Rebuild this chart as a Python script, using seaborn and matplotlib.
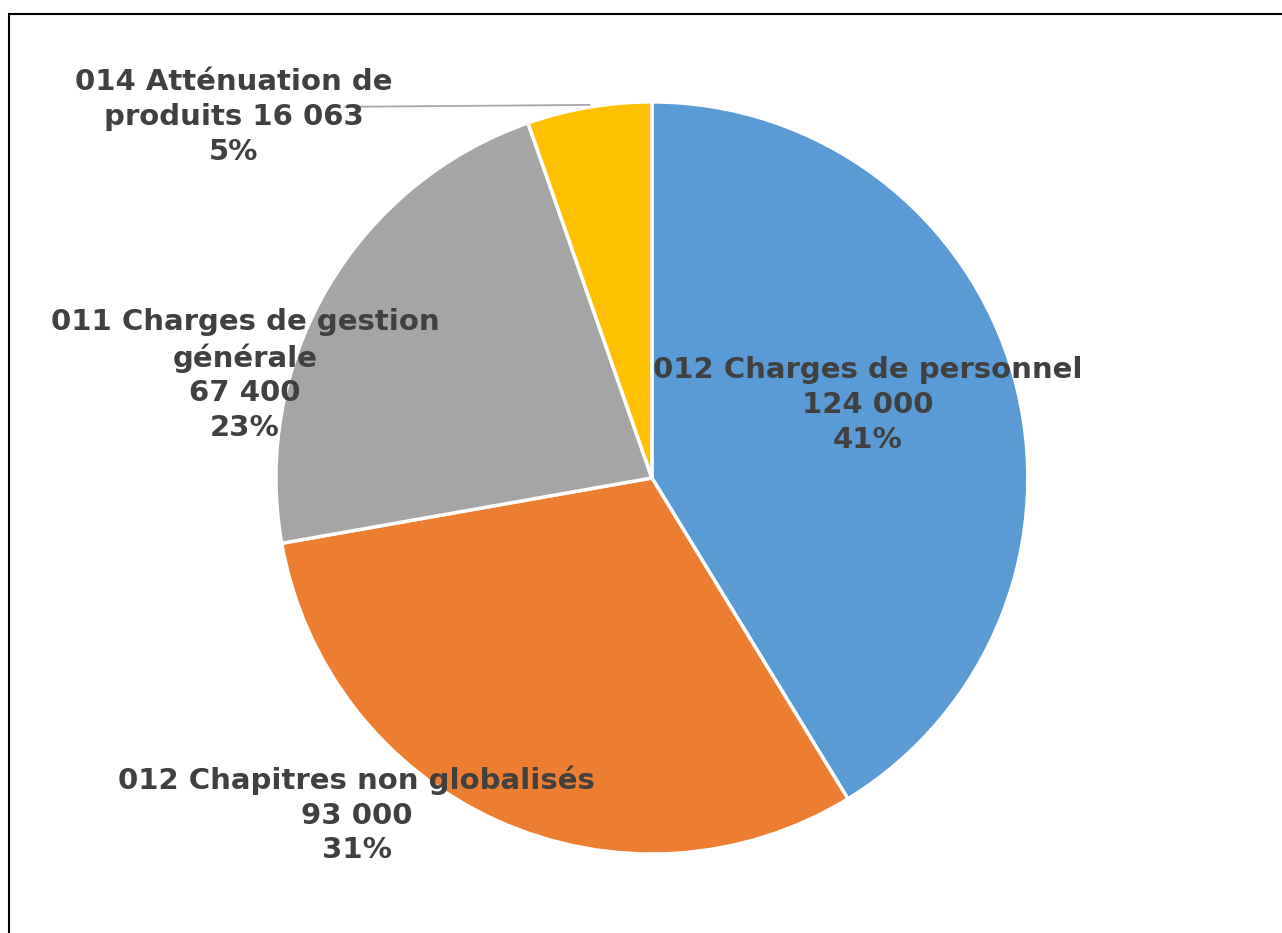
import matplotlib
matplotlib.use("Agg")
import matplotlib.pyplot as plt
import matplotlib.patches as mpatches
import seaborn as sns

# Données (chapitres de fonctionnement)
chapitres = ["012 Charges de personnel", "012 Chapitres non globalisés",
             "011 Charges de gestion\ngénérale", "014 Atténuation de\nproduits"]
montants = [124000, 93000, 67400, 16063]
pourcentages = [41, 31, 23, 5]  # tels qu'affichés
couleurs = ["#5B9BD5", "#ED7D31", "#A5A5A5", "#FFC000"]

sns.set_theme(style="white")
plt.rcParams['font.family'] = ['DejaVu Sans']

fig = plt.figure(figsize=(12.82, 9.33), dpi=100)
ax = fig.add_axes([0, 0, 1, 1])
ax.axis("off")

ax.pie(montants, colors=couleurs, startangle=90, counterclock=False, radius=1,
       wedgeprops=dict(edgecolor="white", linewidth=2.5))
ax.set_aspect("auto")
ax.set_xlim(-1.734, 1.676)
ax.set_ylim(-1.210, 1.271)


def fmt(v):
    return f"{v:,}".replace(",", " ")


pos_labels = [(0.574, 0.194), (-0.785, -0.896), (-1.082, 0.274), (-1.112, 0.960)]
for i, (nom, v, pct) in enumerate(zip(chapitres, montants, pourcentages)):
    if i == 3:
        txt = f"{nom} {fmt(v)}\n{pct}%"
    else:
        txt = f"{nom}\n{fmt(v)}\n{pct}%"
    x, y = pos_labels[i]
    ax.text(x, y, txt, ha="center", va="center", fontsize=21, fontweight="bold",
            color="#404040", linespacing=1.3, zorder=5)

# ligne de rappel pour la petite part
ax.plot([-0.816, -0.165], [0.987, 0.992], color="#A6A6A6", linewidth=1.3, zorder=1)

# cadre
cadre = mpatches.Rectangle((9 / 1282, -0.1), 1.2, 1 - 14 / 933 + 0.1,
                           transform=fig.transFigure, fill=False,
                           edgecolor="black", linewidth=1.5)
fig.patches.append(cadre)

fig.savefig("out.png", dpi=100)
